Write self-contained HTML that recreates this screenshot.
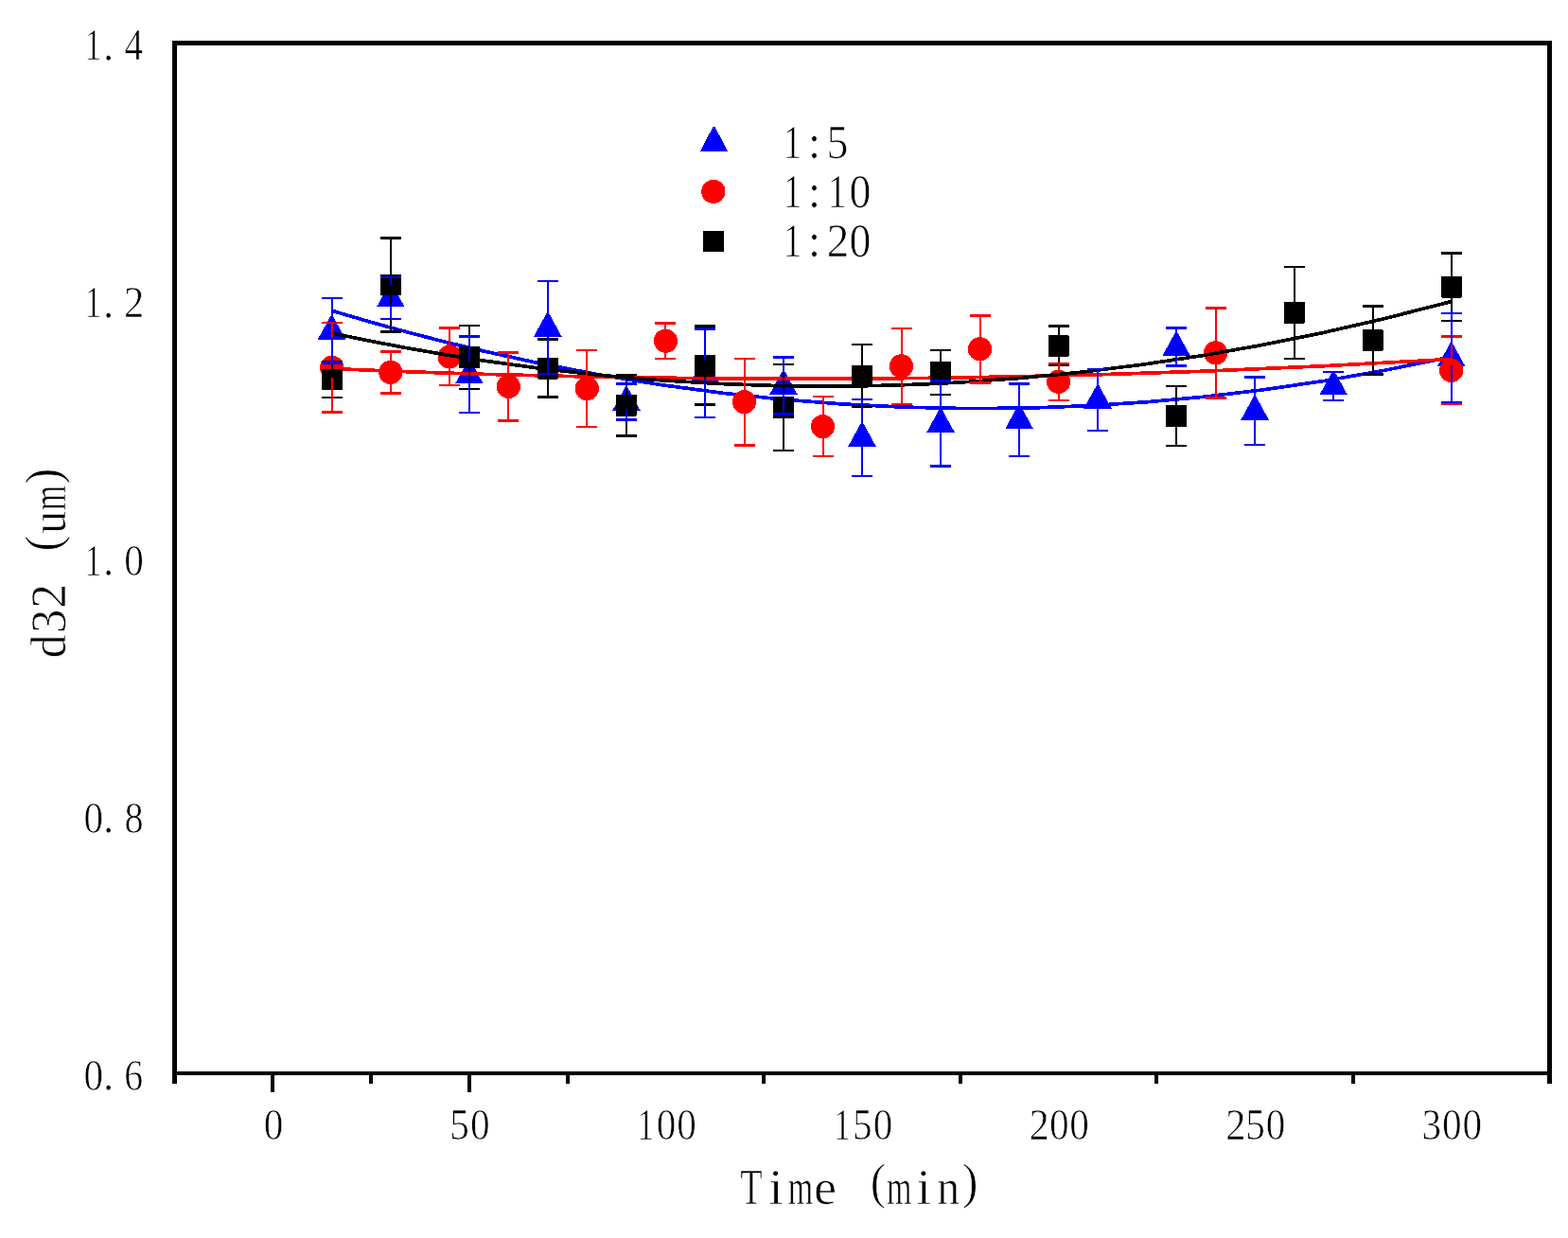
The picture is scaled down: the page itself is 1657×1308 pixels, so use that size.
<!DOCTYPE html>
<html lang="en"><head><meta charset="utf-8"><title>d32 vs Time</title>
<style>
html,body{margin:0;padding:0;background:#fff;}
body{width:1657px;height:1308px;overflow:hidden;}
svg{display:block;}
text{font-family:"Liberation Serif","Noto Serif CJK SC",serif;fill:#000;white-space:pre;stroke:#fff;stroke-width:0.7px;stroke-linejoin:round;}
</style></head><body>
<svg width="1657" height="1308" viewBox="0 0 1657 1308">
<desc>Scatter plot of d32 (um) against Time (min) with error bars and quadratic fits for ratios 1:5, 1:10 and 1:20</desc>
<rect x="0" y="0" width="1657" height="1308" fill="#fff"/>
<g shape-rendering="crispEdges">
<g>
<polygon points="349.6,333.5 351.6,333.5 365.3,358.6 335.8,358.6" fill="#0000ff"/>
<polygon points="411.8,299.1 413.8,299.1 427.6,324.2 398.1,324.2" fill="#0000ff"/>
<polygon points="494.9,380.1 496.9,380.1 510.6,405.2 481.1,405.2" fill="#0000ff"/>
<polygon points="577.9,330.4 579.9,330.4 593.6,355.5 564.1,355.5" fill="#0000ff"/>
<polygon points="660.9,408.7 662.9,408.7 676.7,433.8 647.2,433.8" fill="#0000ff"/>
<polygon points="743.9,378.4 745.9,378.4 759.7,403.6 730.2,403.6" fill="#0000ff"/>
<polygon points="827.0,391.7 829.0,391.7 842.7,416.8 813.2,416.8" fill="#0000ff"/>
<polygon points="910.0,446.6 912.0,446.6 925.8,471.8 896.2,471.8" fill="#0000ff"/>
<polygon points="993.0,431.7 995.0,431.7 1008.8,456.8 979.3,456.8" fill="#0000ff"/>
<polygon points="1076.1,427.8 1078.1,427.8 1091.8,452.9 1062.3,452.9" fill="#0000ff"/>
<polygon points="1159.1,406.7 1161.1,406.7 1174.8,431.8 1145.3,431.8" fill="#0000ff"/>
<polygon points="1242.1,350.9 1244.1,350.9 1257.9,376.0 1228.4,376.0" fill="#0000ff"/>
<polygon points="1325.1,418.4 1327.1,418.4 1340.9,443.5 1311.4,443.5" fill="#0000ff"/>
<polygon points="1408.2,392.1 1410.2,392.1 1423.9,417.2 1394.4,417.2" fill="#0000ff"/>
<polygon points="1532.7,362.1 1534.7,362.1 1548.5,387.2 1519.0,387.2" fill="#0000ff"/>
</g>
<path d="M350.56,328.24 Q942.14,506.79 1533.71,376.92" fill="none" stroke="#0000ff" stroke-width="3.7"/>
<g>
<circle cx="350.6" cy="388.2" r="12.6" fill="#ff0000"/>
<circle cx="412.8" cy="393.4" r="12.6" fill="#ff0000"/>
<circle cx="475.1" cy="376.8" r="12.6" fill="#ff0000"/>
<circle cx="537.4" cy="408.4" r="12.6" fill="#ff0000"/>
<circle cx="620.4" cy="410.6" r="12.6" fill="#ff0000"/>
<circle cx="703.4" cy="360.2" r="12.6" fill="#ff0000"/>
<circle cx="786.5" cy="424.6" r="12.6" fill="#ff0000"/>
<circle cx="869.5" cy="450.6" r="12.6" fill="#ff0000"/>
<circle cx="952.5" cy="386.9" r="12.6" fill="#ff0000"/>
<circle cx="1035.5" cy="368.8" r="12.6" fill="#ff0000"/>
<circle cx="1118.6" cy="403.3" r="12.6" fill="#ff0000"/>
<circle cx="1284.6" cy="372.9" r="12.6" fill="#ff0000"/>
<circle cx="1533.7" cy="391.4" r="12.6" fill="#ff0000"/>
</g>
<path d="M350.56,389.53 Q942.14,415.25 1533.71,379.35" fill="none" stroke="#ff0000" stroke-width="3.7"/>
<g>
<rect x="339.6" y="389.5" width="22.0" height="22.8" rx="1" fill="#000000"/>
<rect x="401.8" y="289.6" width="22.0" height="22.8" rx="1" fill="#000000"/>
<rect x="484.9" y="366.3" width="22.0" height="22.8" rx="1" fill="#000000"/>
<rect x="567.9" y="377.7" width="22.0" height="22.8" rx="1" fill="#000000"/>
<rect x="650.9" y="416.9" width="22.0" height="22.8" rx="1" fill="#000000"/>
<rect x="733.9" y="374.7" width="22.0" height="22.8" rx="1" fill="#000000"/>
<rect x="817.0" y="419.0" width="22.0" height="22.8" rx="1" fill="#000000"/>
<rect x="900.0" y="385.6" width="22.0" height="22.8" rx="1" fill="#000000"/>
<rect x="983.0" y="382.0" width="22.0" height="22.8" rx="1" fill="#000000"/>
<rect x="1107.6" y="353.9" width="22.0" height="22.8" rx="1" fill="#000000"/>
<rect x="1232.1" y="428.1" width="22.0" height="22.8" rx="1" fill="#000000"/>
<rect x="1356.7" y="319.0" width="22.0" height="22.8" rx="1" fill="#000000"/>
<rect x="1439.7" y="348.1" width="22.0" height="22.8" rx="1" fill="#000000"/>
<rect x="1522.7" y="291.7" width="22.0" height="22.8" rx="1" fill="#000000"/>
</g>
<path d="M350.56,351.91 Q942.14,479.08 1533.71,318.48" fill="none" stroke="#000000" stroke-width="3.7"/>
<g stroke="#000000" stroke-width="2.0" fill="none">
<path d="M350.6,381.8 V391.0 M350.6,410.8 V419.9"/>
<path d="M339.6,381.8 H361.6 M339.6,419.9 H361.6" stroke-width="2.5"/>
<path d="M412.8,251.5 V291.1 M412.8,310.8 V350.4"/>
<path d="M401.8,251.5 H423.8 M401.8,350.4 H423.8" stroke-width="2.5"/>
<path d="M495.9,344.2 V367.8 M495.9,387.6 V411.2"/>
<path d="M484.9,344.2 H506.9 M484.9,411.2 H506.9" stroke-width="2.5"/>
<path d="M578.9,358.6 V379.2 M578.9,399.0 V419.6"/>
<path d="M567.9,358.6 H589.9 M567.9,419.6 H589.9" stroke-width="2.5"/>
<path d="M661.9,396.1 V418.4 M661.9,438.2 V460.5"/>
<path d="M650.9,396.1 H672.9 M650.9,460.5 H672.9" stroke-width="2.5"/>
<path d="M744.9,344.7 V376.2 M744.9,396.0 V427.5"/>
<path d="M733.9,344.7 H755.9 M733.9,427.5 H755.9" stroke-width="2.5"/>
<path d="M828.0,385.0 V420.5 M828.0,440.3 V475.8"/>
<path d="M817.0,385.0 H839.0 M817.0,475.8 H839.0" stroke-width="2.5"/>
<path d="M911.0,363.9 V387.1 M911.0,406.9 V430.1"/>
<path d="M900.0,363.9 H922.0 M900.0,430.1 H922.0" stroke-width="2.5"/>
<path d="M994.0,369.9 V383.5 M994.0,403.2 V416.8"/>
<path d="M983.0,369.9 H1005.0 M983.0,416.8 H1005.0" stroke-width="2.5"/>
<path d="M1118.6,344.7 V355.4 M1118.6,375.1 V385.8"/>
<path d="M1107.6,344.7 H1129.6 M1107.6,385.8 H1129.6" stroke-width="2.5"/>
<path d="M1243.1,408.0 V429.6 M1243.1,449.4 V471.0"/>
<path d="M1232.1,408.0 H1254.1 M1232.1,471.0 H1254.1" stroke-width="2.5"/>
<path d="M1367.7,281.9 V320.5 M1367.7,340.3 V378.9"/>
<path d="M1356.7,281.9 H1378.7 M1356.7,378.9 H1378.7" stroke-width="2.5"/>
<path d="M1450.7,323.5 V349.6 M1450.7,369.3 V395.4"/>
<path d="M1439.7,323.5 H1461.7 M1439.7,395.4 H1461.7" stroke-width="2.5"/>
<path d="M1533.7,267.4 V293.2 M1533.7,313.0 V338.8"/>
<path d="M1522.7,267.4 H1544.7 M1522.7,338.8 H1544.7" stroke-width="2.5"/>
</g>
<g stroke="#ff0000" stroke-width="2.0" fill="none">
<path d="M350.6,340.9 V377.1 M350.6,399.4 V435.6"/>
<path d="M339.6,340.9 H361.6 M339.6,435.6 H361.6" stroke-width="2.5"/>
<path d="M412.8,371.3 V382.2 M412.8,404.5 V415.4"/>
<path d="M401.8,371.3 H423.8 M401.8,415.4 H423.8" stroke-width="2.5"/>
<path d="M475.1,346.7 V365.6 M475.1,387.9 V406.8"/>
<path d="M464.1,346.7 H486.1 M464.1,406.8 H486.1" stroke-width="2.5"/>
<path d="M537.4,372.4 V397.3 M537.4,419.6 V444.5"/>
<path d="M526.4,372.4 H548.4 M526.4,444.5 H548.4" stroke-width="2.5"/>
<path d="M620.4,370.0 V399.4 M620.4,421.7 V451.1"/>
<path d="M609.4,370.0 H631.4 M609.4,451.1 H631.4" stroke-width="2.5"/>
<path d="M703.4,341.7 V349.1 M703.4,371.4 V378.8"/>
<path d="M692.4,341.7 H714.4 M692.4,378.8 H714.4" stroke-width="2.5"/>
<path d="M786.5,378.8 V413.5 M786.5,435.8 V470.5"/>
<path d="M775.5,378.8 H797.5 M775.5,470.5 H797.5" stroke-width="2.5"/>
<path d="M869.5,419.2 V439.5 M869.5,461.7 V482.0"/>
<path d="M858.5,419.2 H880.5 M858.5,482.0 H880.5" stroke-width="2.5"/>
<path d="M952.5,347.0 V375.8 M952.5,398.0 V426.8"/>
<path d="M941.5,347.0 H963.5 M941.5,426.8 H963.5" stroke-width="2.5"/>
<path d="M1035.5,333.3 V357.7 M1035.5,379.9 V404.3"/>
<path d="M1024.5,333.3 H1046.5 M1024.5,404.3 H1046.5" stroke-width="2.5"/>
<path d="M1118.6,383.8 V392.2 M1118.6,414.4 V422.8"/>
<path d="M1107.6,383.8 H1129.6 M1107.6,422.8 H1129.6" stroke-width="2.5"/>
<path d="M1284.6,325.5 V361.8 M1284.6,384.0 V420.3"/>
<path d="M1273.6,325.5 H1295.6 M1273.6,420.3 H1295.6" stroke-width="2.5"/>
<path d="M1533.7,355.7 V380.3 M1533.7,402.6 V427.2"/>
<path d="M1522.7,355.7 H1544.7 M1522.7,427.2 H1544.7" stroke-width="2.5"/>
</g>
<g stroke="#0000ff" stroke-width="2.0" fill="none">
<path d="M350.6,315.0 V335.0 M350.6,357.1 V383.6"/>
<path d="M339.6,315.0 H361.6 M339.6,383.6 H361.6" stroke-width="2.5"/>
<path d="M412.8,292.8 V300.6 M412.8,322.7 V337.0"/>
<path d="M401.8,292.8 H423.8 M401.8,337.0 H423.8" stroke-width="2.5"/>
<path d="M495.9,355.7 V381.6 M495.9,403.7 V436.0"/>
<path d="M484.9,355.7 H506.9 M484.9,436.0 H506.9" stroke-width="2.5"/>
<path d="M578.9,297.2 V331.9 M578.9,354.0 V395.2"/>
<path d="M567.9,297.2 H589.9 M567.9,395.2 H589.9" stroke-width="2.5"/>
<path d="M661.9,405.7 V410.2 M661.9,432.3 V443.4"/>
<path d="M650.9,405.7 H672.9 M650.9,443.4 H672.9" stroke-width="2.5"/>
<path d="M744.9,347.4 V379.9 M744.9,402.1 V441.1"/>
<path d="M733.9,347.4 H755.9 M733.9,441.1 H755.9" stroke-width="2.5"/>
<path d="M828.0,377.5 V393.2 M828.0,415.3 V437.5"/>
<path d="M817.0,377.5 H839.0 M817.0,437.5 H839.0" stroke-width="2.5"/>
<path d="M911.0,422.0 V448.1 M911.0,470.2 V502.9"/>
<path d="M900.0,422.0 H922.0 M900.0,502.9 H922.0" stroke-width="2.5"/>
<path d="M994.0,402.3 V433.2 M994.0,455.3 V492.7"/>
<path d="M983.0,402.3 H1005.0 M983.0,492.7 H1005.0" stroke-width="2.5"/>
<path d="M1077.1,405.3 V429.2 M1077.1,451.4 V481.8"/>
<path d="M1066.1,405.3 H1088.1 M1066.1,481.8 H1088.1" stroke-width="2.5"/>
<path d="M1160.1,390.0 V408.2 M1160.1,430.3 V455.0"/>
<path d="M1149.1,390.0 H1171.1 M1149.1,455.0 H1171.1" stroke-width="2.5"/>
<path d="M1243.1,346.7 V352.4 M1243.1,374.5 V386.7"/>
<path d="M1232.1,346.7 H1254.1 M1232.1,386.7 H1254.1" stroke-width="2.5"/>
<path d="M1326.1,398.4 V419.9 M1326.1,442.0 V470.0"/>
<path d="M1315.1,398.4 H1337.1 M1315.1,470.0 H1337.1" stroke-width="2.5"/>
<path d="M1409.2,392.9 V393.6 M1409.2,415.7 V422.9"/>
<path d="M1398.2,392.9 H1420.2 M1398.2,422.9 H1420.2" stroke-width="2.5"/>
<path d="M1533.7,330.8 V363.6 M1533.7,385.7 V424.9"/>
<path d="M1522.7,330.8 H1544.7 M1522.7,424.9 H1544.7" stroke-width="2.5"/>
</g>
<g fill="#000">
<rect x="182" y="43" width="1458" height="5"/>
<rect x="182" y="1132" width="1458" height="4"/>
<rect x="182" y="43" width="5" height="1102"/>
<rect x="1635" y="43" width="5" height="1102"/>
<rect x="390" y="1134" width="4" height="11"/>
<rect x="598" y="1134" width="4" height="11"/>
<rect x="805" y="1134" width="4" height="11"/>
<rect x="1013" y="1134" width="4" height="11"/>
<rect x="1220" y="1134" width="4" height="11"/>
<rect x="1428" y="1134" width="4" height="11"/>
<rect x="286" y="1134" width="4" height="20"/>
<rect x="494" y="1134" width="4" height="20"/>
</g>
<polygon points="753.5,133.9 755.5,133.9 769.2,159.9 739.8,159.9" fill="#0000ff"/>
<circle cx="753.9" cy="202.4" r="12.6" fill="#ff0000"/>
<rect x="743.1" y="244.2" width="22.0" height="21.8" rx="1" fill="#000000"/>
</g>
<text aria-label="1.4" font-size="45.58"><tspan x="89.64" y="63.30" textLength="17.55" lengthAdjust="spacingAndGlyphs">1</tspan><tspan x="108.90" y="63.81" textLength="11.18" lengthAdjust="spacingAndGlyphs">.</tspan><tspan x="131.57" y="63.30" textLength="19.70" lengthAdjust="spacingAndGlyphs">4</tspan></text>
<text aria-label="1.2" font-size="45.58"><tspan x="89.64" y="335.42" textLength="17.55" lengthAdjust="spacingAndGlyphs">1</tspan><tspan x="108.90" y="335.94" textLength="11.18" lengthAdjust="spacingAndGlyphs">.</tspan><tspan x="131.11" y="335.42" textLength="21.25" lengthAdjust="spacingAndGlyphs">2</tspan></text>
<text aria-label="1.0" font-size="45.58"><tspan x="89.64" y="607.55" textLength="17.55" lengthAdjust="spacingAndGlyphs">1</tspan><tspan x="108.90" y="608.06" textLength="11.18" lengthAdjust="spacingAndGlyphs">.</tspan><tspan x="131.20" y="607.55" textLength="20.61" lengthAdjust="spacingAndGlyphs">0</tspan></text>
<text aria-label="0.8" font-size="45.58"><tspan x="88.60" y="879.67" textLength="20.61" lengthAdjust="spacingAndGlyphs">0</tspan><tspan x="108.90" y="880.19" textLength="11.18" lengthAdjust="spacingAndGlyphs">.</tspan><tspan x="131.45" y="879.67" textLength="20.10" lengthAdjust="spacingAndGlyphs">8</tspan></text>
<text aria-label="0.6" font-size="45.58"><tspan x="88.60" y="1151.80" textLength="20.61" lengthAdjust="spacingAndGlyphs">0</tspan><tspan x="108.90" y="1152.31" textLength="11.18" lengthAdjust="spacingAndGlyphs">.</tspan><tspan x="131.27" y="1151.80" textLength="19.94" lengthAdjust="spacingAndGlyphs">6</tspan></text>
<text aria-label="0" font-size="45.58"><tspan x="278.68" y="1203.90" textLength="20.61" lengthAdjust="spacingAndGlyphs">0</tspan></text>
<text aria-label="50" font-size="45.58"><tspan x="475.20" y="1203.90" textLength="20.62" lengthAdjust="spacingAndGlyphs">5</tspan><tspan x="496.90" y="1203.90" textLength="20.61" lengthAdjust="spacingAndGlyphs">0</tspan></text>
<text aria-label="100" font-size="45.58"><tspan x="673.57" y="1203.90" textLength="17.55" lengthAdjust="spacingAndGlyphs">1</tspan><tspan x="693.83" y="1203.90" textLength="20.61" lengthAdjust="spacingAndGlyphs">0</tspan><tspan x="715.13" y="1203.90" textLength="20.61" lengthAdjust="spacingAndGlyphs">0</tspan></text>
<text aria-label="150" font-size="45.58"><tspan x="881.14" y="1203.90" textLength="17.55" lengthAdjust="spacingAndGlyphs">1</tspan><tspan x="901.00" y="1203.90" textLength="20.62" lengthAdjust="spacingAndGlyphs">5</tspan><tspan x="922.70" y="1203.90" textLength="20.61" lengthAdjust="spacingAndGlyphs">0</tspan></text>
<text aria-label="200" font-size="45.58"><tspan x="1087.58" y="1203.90" textLength="21.25" lengthAdjust="spacingAndGlyphs">2</tspan><tspan x="1108.97" y="1203.90" textLength="20.61" lengthAdjust="spacingAndGlyphs">0</tspan><tspan x="1130.27" y="1203.90" textLength="20.61" lengthAdjust="spacingAndGlyphs">0</tspan></text>
<text aria-label="250" font-size="45.58"><tspan x="1295.15" y="1203.90" textLength="21.25" lengthAdjust="spacingAndGlyphs">2</tspan><tspan x="1316.14" y="1203.90" textLength="20.62" lengthAdjust="spacingAndGlyphs">5</tspan><tspan x="1337.84" y="1203.90" textLength="20.61" lengthAdjust="spacingAndGlyphs">0</tspan></text>
<text aria-label="300" font-size="45.58"><tspan x="1502.62" y="1203.90" textLength="20.63" lengthAdjust="spacingAndGlyphs">3</tspan><tspan x="1524.11" y="1203.90" textLength="20.61" lengthAdjust="spacingAndGlyphs">0</tspan><tspan x="1545.41" y="1203.90" textLength="20.61" lengthAdjust="spacingAndGlyphs">0</tspan></text>
<text aria-label="1:5" font-size="50.14"><tspan x="827.74" y="167.40" textLength="19.48" lengthAdjust="spacingAndGlyphs">1</tspan><tspan x="854.10" y="167.40" textLength="13.07" lengthAdjust="spacingAndGlyphs">:</tspan><tspan x="873.44" y="167.40" textLength="22.90" lengthAdjust="spacingAndGlyphs">5</tspan></text>
<text aria-label="1:10" font-size="50.14"><tspan x="827.74" y="219.00" textLength="19.48" lengthAdjust="spacingAndGlyphs">1</tspan><tspan x="854.10" y="219.00" textLength="13.07" lengthAdjust="spacingAndGlyphs">:</tspan><tspan x="875.04" y="219.00" textLength="19.48" lengthAdjust="spacingAndGlyphs">1</tspan><tspan x="897.54" y="219.00" textLength="22.88" lengthAdjust="spacingAndGlyphs">0</tspan></text>
<text aria-label="1:20" font-size="50.14"><tspan x="827.74" y="270.90" textLength="19.48" lengthAdjust="spacingAndGlyphs">1</tspan><tspan x="854.10" y="270.90" textLength="13.07" lengthAdjust="spacingAndGlyphs">:</tspan><tspan x="873.79" y="270.90" textLength="23.60" lengthAdjust="spacingAndGlyphs">2</tspan><tspan x="897.54" y="270.90" textLength="22.88" lengthAdjust="spacingAndGlyphs">0</tspan></text>
<text aria-label="Time (min)" font-size="52.62"><tspan x="782.34" y="1272.40" textLength="23.31" lengthAdjust="spacingAndGlyphs">T</tspan><tspan x="812.26" y="1272.40" textLength="15.52" lengthAdjust="spacingAndGlyphs">i</tspan><tspan x="832.80" y="1272.40" textLength="26.46" lengthAdjust="spacingAndGlyphs">m</tspan><tspan x="860.00" y="1272.40" textLength="24.12" lengthAdjust="spacingAndGlyphs">e</tspan> <tspan x="919.76" y="1266.25" font-size="53.14" textLength="16.48" lengthAdjust="spacingAndGlyphs">(</tspan><tspan x="937.00" y="1272.40" textLength="26.46" lengthAdjust="spacingAndGlyphs">m</tspan><tspan x="968.56" y="1272.40" textLength="15.52" lengthAdjust="spacingAndGlyphs">i</tspan><tspan x="990.28" y="1272.40" textLength="23.91" lengthAdjust="spacingAndGlyphs">n</tspan><tspan x="1016.69" y="1266.25" font-size="53.14" textLength="16.75" lengthAdjust="spacingAndGlyphs">)</tspan></text>
<text aria-label="d32 (um)" font-size="52.62" transform="translate(68.9,695.2) rotate(-90)"><tspan x="0.03" y="0.40" textLength="24.80" lengthAdjust="spacingAndGlyphs">d</tspan><tspan x="26.24" y="0.40" textLength="25.22" lengthAdjust="spacingAndGlyphs">3</tspan><tspan x="52.42" y="0.40" textLength="25.99" lengthAdjust="spacingAndGlyphs">2</tspan> <tspan x="112.71" y="-5.75" font-size="53.14" textLength="16.48" lengthAdjust="spacingAndGlyphs">(</tspan><tspan x="131.44" y="0.40" textLength="23.85" lengthAdjust="spacingAndGlyphs">u</tspan><tspan x="156.00" y="0.40" textLength="26.46" lengthAdjust="spacingAndGlyphs">m</tspan><tspan x="183.59" y="-5.75" font-size="53.14" textLength="16.75" lengthAdjust="spacingAndGlyphs">)</tspan></text>
</svg>
</body></html>
